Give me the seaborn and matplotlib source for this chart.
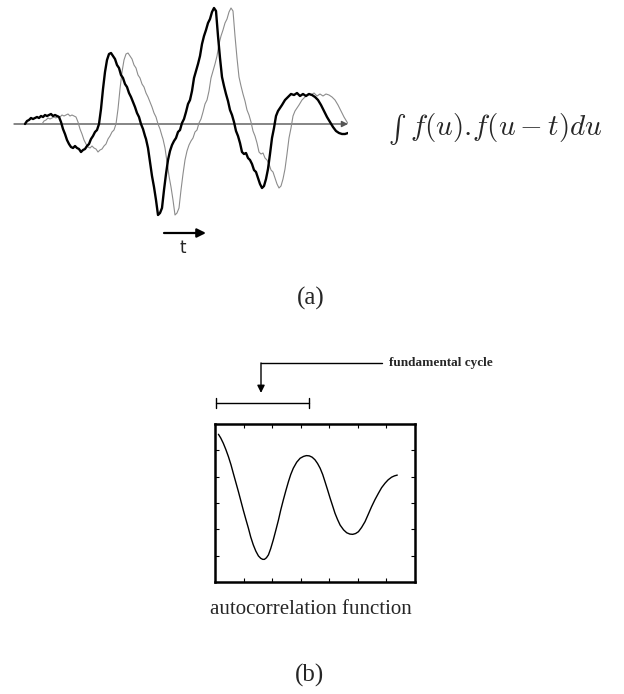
import numpy as np
import pandas as pd
import matplotlib
matplotlib.use("Agg")
import matplotlib.pyplot as plt
import seaborn as sns

# ---------------- data ----------------
# panel (a): sampled signal f(u) (time sample, amplitude)
sig_time = [0, 2, 4, 6, 8, 10, 12, 14, 16, 18, 20, 22, 24, 26, 28, 30, 32, 34, 36, 38,
            40, 42, 44, 46, 48, 50, 52, 54, 56, 58, 60, 62, 64, 66, 68, 70, 72, 74, 76, 78,
            80, 82, 84, 86, 88, 90, 92, 94, 96, 98, 100, 102, 104, 106, 108, 110, 112, 114, 116, 118,
            120, 121, 123, 125, 127, 129, 131, 133, 135, 137, 139, 141, 143, 145, 147, 149, 151, 153, 155, 157,
            159, 161, 163, 165, 167, 169, 171, 173, 175, 177, 179, 181, 183, 185, 187, 189, 191, 193, 195, 197,
            199, 201, 203, 205, 207, 209, 211, 213, 215, 217, 219, 221, 223, 225, 227, 229, 231, 233, 235, 237,
            239, 241, 243, 245, 247, 249, 251, 253, 255, 257, 260, 263, 266, 269, 272, 275, 278, 281, 284, 287,
            290, 293, 296, 299, 302, 305, 308, 311, 314, 317, 320, 323, 326, 329, 332, 335, 338]
sig_amp = [0, 3, 4, 6, 5, 6, 7, 6, 8, 7, 9, 8, 9, 10, 8, 9, 8, 7, 2, -5,
           -10, -16, -20, -23, -24, -22, -24, -25, -28, -26, -25, -22, -20, -15, -12, -8, -6, 0, 15, 35,
           52, 64, 70, 71, 68, 65, 59, 56, 49, 46, 40, 37, 31, 27, 22, 17, 11, 7, 0, -5,
           -12, -15, -24, -38, -52, -63, -76, -91, -89, -84, -66, -50, -36, -27, -21, -17, -14, -8, -6, 1,
           5, 12, 20, 24, 33, 46, 53, 60, 68, 80, 88, 94, 101, 105, 112, 116, 113, 88, 66, 47,
           38, 30, 23, 14, 9, 2, -7, -12, -19, -28, -30, -29, -34, -36, -40, -46, -48, -54, -60, -64,
           -62, -55, -45, -30, -14, -4, 8, 13, 16, 19, 24, 27, 30, 29, 31, 28, 30, 28, 30, 29,
           27, 24, 19, 13, 7, 2, -3, -7, -9, -10, -10, -9, -10, -9, -8, -7, -5]
lag = 17  # delay of the shifted copy f(u - t), in samples

# panel (b): autocorrelation function
ac_lag = [0.12, 0.20, 0.29, 0.38, 0.47, 0.56, 0.64, 0.73, 0.82, 0.90, 0.99, 1.08, 1.17, 1.25,
          1.34, 1.43, 1.52, 1.60, 1.67, 1.73, 1.80, 1.87, 1.95, 2.04, 2.13, 2.22, 2.30, 2.39,
          2.48, 2.57, 2.65, 2.74, 2.86, 2.98, 3.10, 3.20, 3.30, 3.40, 3.50, 3.59, 3.68, 3.77,
          3.85, 3.94, 4.03, 4.12, 4.20, 4.29, 4.38, 4.50, 4.61, 4.72, 4.82, 4.92, 5.02, 5.13,
          5.25, 5.36, 5.48, 5.60, 5.72, 5.83, 5.95, 6.06, 6.18, 6.28, 6.38]
ac_val = [5.61, 5.47, 5.27, 5.03, 4.76, 4.45, 4.13, 3.78, 3.43, 3.10, 2.73, 2.38, 2.04, 1.71,
          1.41, 1.17, 0.99, 0.90, 0.86, 0.86, 0.92, 1.03, 1.27, 1.60, 1.97, 2.35, 2.73, 3.11,
          3.47, 3.81, 4.08, 4.32, 4.55, 4.70, 4.77, 4.80, 4.79, 4.74, 4.64, 4.50, 4.32, 4.08,
          3.81, 3.50, 3.18, 2.88, 2.61, 2.37, 2.16, 1.98, 1.87, 1.82, 1.81, 1.84, 1.91, 2.07,
          2.29, 2.56, 2.86, 3.13, 3.37, 3.58, 3.75, 3.88, 3.98, 4.03, 4.06]
fund_start, fund_end = 0.05, 3.30   # fundamental cycle span (lag units)

# ---------------- figure ----------------
sns.set_style("white")
plt.rcParams["font.family"] = ["Liberation Serif", "DejaVu Serif"]
plt.rcParams["mathtext.fontset"] = "cm"

W, H = 624, 694
fig = plt.figure(figsize=(W / 100, H / 100), dpi=100)
fig.patch.set_facecolor("white")


def px_axes(x0, y0, x1, y1):
    return fig.add_axes([x0 / W, 1 - y1 / H, (x1 - x0) / W, (y1 - y0) / H])


# ---- panel (a) ----
ax1 = px_axes(14, 0, 348, 248)
t_all = np.array(sig_time, dtype=float)
a_all = np.array(sig_amp, dtype=float)
df = pd.DataFrame({"t": t_all, "a": a_all})
dfs = pd.DataFrame({"t": t_all + lag, "a": a_all})

ax1.annotate("", xy=(323, 0), xytext=(-11, 0),
             arrowprops=dict(arrowstyle="-|>", color="#555555", lw=1.0,
                             mutation_scale=9, shrinkA=0, shrinkB=0), zorder=1)
sns.lineplot(data=dfs, x="t", y="a", ax=ax1, color="#8c8c8c", lw=0.8,
             estimator=None, sort=False, zorder=2)
sns.lineplot(data=df, x="t", y="a", ax=ax1, color="black", lw=1.7,
             estimator=None, sort=False, zorder=3)
ax1.set_xlim(-11, 323)
ax1.set_ylim(-124, 124)
ax1.axis("off")

# ---- panel (b) ----
ax2 = px_axes(215, 424, 415, 582)
dac = pd.DataFrame({"lag": ac_lag, "r": ac_val})
sns.lineplot(data=dac, x="lag", y="r", ax=ax2, color="black", lw=1.0,
             estimator=None, sort=False)
ax2.set_xlim(0, 7)
ax2.set_ylim(0, 6)
ax2.set_xticks(range(1, 7))
ax2.set_yticks(range(1, 6))
ax2.set_xticklabels([])
ax2.set_yticklabels([])
ax2.set_xlabel("")
ax2.set_ylabel("")
ax2.tick_params(direction="in", length=3, width=0.8, top=True, right=True,
                bottom=True, left=True, color="black")
for s in ax2.spines.values():
    s.set_visible(True)
    s.set_linewidth(1.8)
    s.set_color("black")

# fundamental cycle bracket (in lag units of ax2)
ax2.plot([fund_start, fund_end], [6.80, 6.80], color="black", lw=1.0, clip_on=False)
for xb in (fund_start, fund_end):
    ax2.plot([xb, xb], [6.61, 6.99], color="black", lw=1.0, clip_on=False)
ax2.plot([5.85, 1.61], [8.32, 8.32], color="black", lw=1.0, clip_on=False)
ax2.annotate("", xy=(1.61, 7.18), xytext=(1.61, 8.32), annotation_clip=False,
             arrowprops=dict(arrowstyle="-|>", color="black", lw=1.0,
                             mutation_scale=11, shrinkA=0, shrinkB=0))
ax2.text(6.09, 8.32, "fundamental cycle", fontsize=9.5, fontweight="bold",
         va="center", ha="left", clip_on=False)

# ---- overlay annotations (pixel space) ----
ov = fig.add_axes([0, 0, 1, 1], facecolor="none")
ov.set_xlim(0, W)
ov.set_ylim(H, 0)
ov.axis("off")
ov.annotate("", xy=(206, 233), xytext=(164, 233),
            arrowprops=dict(arrowstyle="-|>", color="black", lw=1.6,
                            mutation_scale=13, shrinkA=0, shrinkB=0))
ov.text(183, 248, "t", fontsize=12, family="DejaVu Sans", ha="center", va="center")
# text-style integral sign (cmex10 glyph) followed by the integrand
ov.text(388, 114, "R", family="cmex10", fontsize=19, ha="left", va="baseline")
ov.text(410, 127, r"$f(u).\!f(u-t)du$", fontsize=21, ha="left", va="center")
ov.text(311, 298, "(a)", fontsize=18, ha="center", va="center")
ov.text(311, 610, "autocorrelation function", fontsize=15, ha="center", va="center")
ov.text(310, 675, "(b)", fontsize=18, ha="center", va="center")

fig.savefig("out.png", dpi=100, facecolor="white")
